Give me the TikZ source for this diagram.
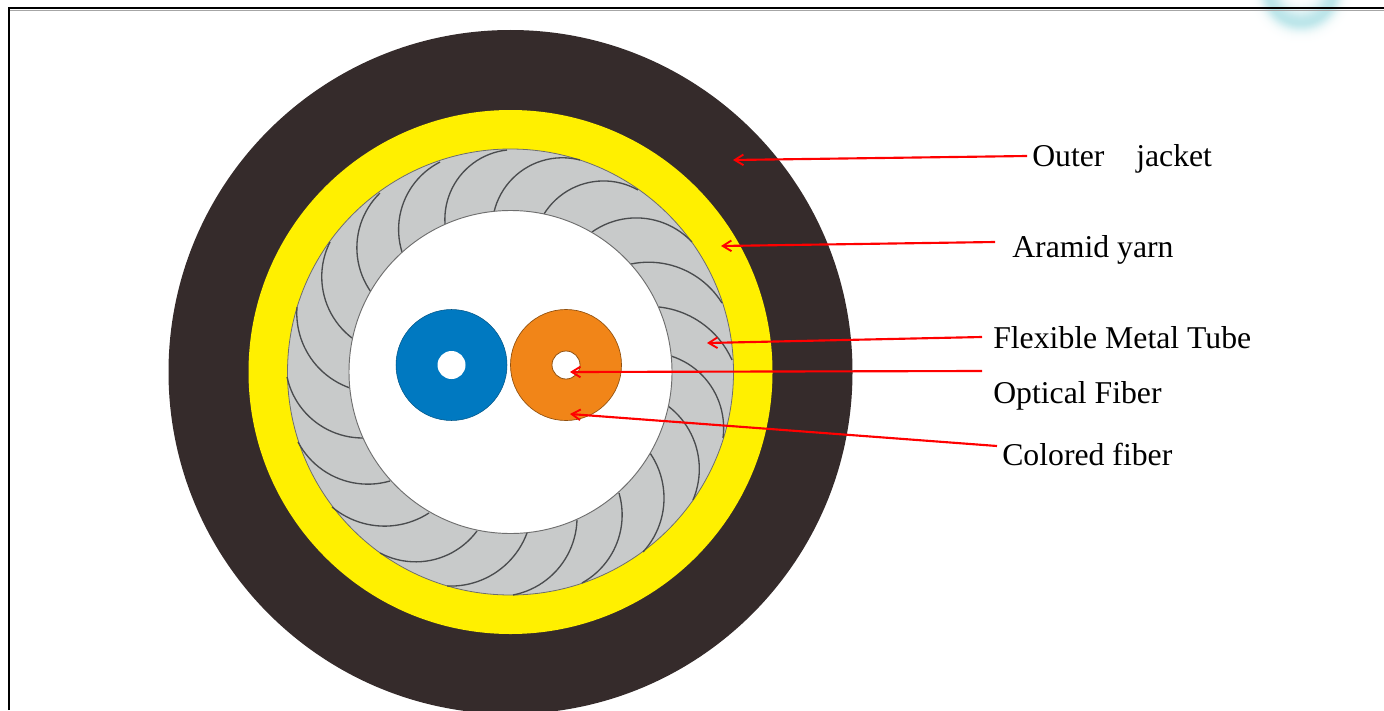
\documentclass[tikz,border=0pt]{standalone}
\usepackage{fontspec}
\setmainfont{Liberation Serif}
\usetikzlibrary{arrows.meta}
\definecolor{jacket}{HTML}{352B2B}
\definecolor{yarn}{HTML}{FFF000}
\definecolor{tube}{HTML}{C8CACA}
\definecolor{fibblue}{HTML}{0079C1}
\definecolor{fiborange}{HTML}{F18518}
\definecolor{edge}{HTML}{6E6E6E}
\definecolor{bladeline}{HTML}{4A4C4E}
\definecolor{arrowred}{HTML}{FF0000}
\definecolor{wm}{HTML}{BDE6EA}
\tikzset{
  x=0.75pt,y=-0.75pt,
  lbl/.style={anchor=base west,inner sep=0pt,font=\fontsize{23.8pt}{26pt}\selectfont,text=black},
  callout/.style={draw=arrowred,line width=1.6pt,-{Straight Barb[length=6.5pt,width=8pt,line width=1.4pt]}},
  disc/.style={circle,inner sep=0pt,minimum size=#1*0.75pt},
  blade/.style={draw=bladeline,line width=1pt,line join=round},
  frameline/.style={draw=black,line width=1.5pt}
}
\begin{document}
\begin{tikzpicture}
\useasboundingbox (0,0) rectangle (1384,710);
\begin{scope}
\clip (0,0) rectangle (1384,710);
% watermark: soft pale ring built from concentric discs
\foreach \r in {54,53,...,8}
{
  \pgfmathsetmacro{\wd}{\r>33 ? 9 : 13}
  \pgfmathsetmacro{\mx}{100*exp(-((\r-33)/\wd)*((\r-33)/\wd))}
  \fill[wm!\mx!white] (1301,-10) circle (\r);
}
% discs
\node[disc=684,fill=jacket] (jacket) at (510.5,372) {};
\node[disc=524,fill=yarn] (yarn) at (510.5,372) {};
\node[disc=446,fill=tube,draw=edge,line width=0.6pt] (tube) at (510.5,372) {};
% blades: each a circular arc through three measured points
\foreach \ax/\ay/\bx/\by/\cx/\cy in {
 352/338/322/283/330/242, 371/292/357/243/380/193, 402/252/402/207/440/162,
 445/224/457/180/507/150, 494/212/520/172/580/160, 544/214/580/185/638/190,
 592/232/640/218/692/242, 631/264/677/267/722/303, 659/307/697/320/732/360,
 671/356/717/397/723/438, 668/406/697/450/693/500, 650/453/664/500/643/552,
 619/493/618/540/582/583, 577/520/557/570/513/595, 527/533/495/573/447/586,
 477/531/427/561/380/553, 429/513/380/526/332/507, 390/481/335/477/298/442,
 363/438/313/420/287/377, 350/388/310/357/297/307}
{
  \pgfmathsetmacro{\pbx}{(\bx-\ax)/100}
  \pgfmathsetmacro{\pby}{(\by-\ay)/100}
  \pgfmathsetmacro{\pcx}{(\cx-\ax)/100}
  \pgfmathsetmacro{\pcy}{(\cy-\ay)/100}
  \pgfmathsetmacro{\dd}{2*(\pbx*\pcy-\pby*\pcx)}
  \pgfmathsetmacro{\sb}{\pbx*\pbx+\pby*\pby}
  \pgfmathsetmacro{\sc}{\pcx*\pcx+\pcy*\pcy}
  \pgfmathsetmacro{\ox}{(\pcy*\sb-\pby*\sc)/\dd}
  \pgfmathsetmacro{\oy}{(\pbx*\sc-\pcx*\sb)/\dd}
  \pgfmathsetmacro{\rad}{sqrt(\ox*\ox+\oy*\oy)}
  \pgfmathsetmacro{\aa}{atan2(-\oy,-\ox)}
  \pgfmathsetmacro{\delt}{atan2((-\ox)*(\pcy-\oy)-(-\oy)*(\pcx-\ox),(-\ox)*(\pcx-\ox)+(-\oy)*(\pcy-\oy))}
  \draw[blade] plot[domain=0:1,samples=24,variable=\t]
    ({\ax+100*(\ox+\rad*cos(\aa+\t*\delt))},{\ay+100*(\oy+\rad*sin(\aa+\t*\delt))});
}
\node[disc=323,fill=white,draw=edge,line width=0.7pt] (core) at (510.5,372) {};
\node[disc=111,fill=fibblue,draw=fibblue!70!black,line width=0.4pt] (blue) at (451.5,365) {};
\node[disc=28,fill=white] (bluehole) at (451.5,365) {};
\node[disc=111,fill=fiborange,draw=fiborange!60!black,line width=0.5pt] (orange) at (566,365) {};
\node[disc=28,fill=white,draw=fiborange!60!black,line width=0.6pt] (orangehole) at (566,365) {};
% frame
\draw[draw=black!35,line width=0.7pt] (10,10.4) -- (1384,10.4);
\draw[frameline] (8.5,710) -- (8.5,8.5) -- (1384,8.5);
\end{scope}
% labels
\node[lbl] (lo) at (1032,166) {Outer\hspace{1em}jacket};
\node[lbl] (la) at (1012,257) {Aramid yarn};
\node[lbl] (lf) at (993,348) {Flexible Metal Tube};
\node[lbl] (lc) at (993,403) {Optical Fiber};
\node[lbl] (lk) at (1002,465) {Colored fiber};
% callouts
\coordinate (to) at (733,160); \coordinate (fo) at (1027,156);
\coordinate (ta) at (721,246); \coordinate (fa) at (995,242);
\coordinate (tf) at (707,343); \coordinate (ff) at (982,337);
\coordinate (tc) at (570,372); \coordinate (fc) at (982,371);
\coordinate (tk) at (570,414); \coordinate (fk) at (997,446);
\draw[callout] (fo) -- (to);
\draw[callout] (fa) -- (ta);
\draw[callout] (ff) -- (tf);
\draw[callout] (fc) -- (tc);
\draw[callout] (fk) -- (tk);
\end{tikzpicture}
\end{document}
